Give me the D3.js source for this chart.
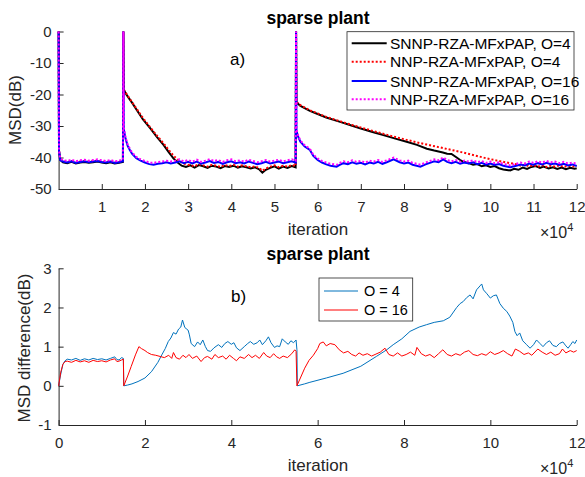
<!DOCTYPE html>
<html>
<head>
<meta charset="utf-8">
<script src="https://cdn.jsdelivr.net/npm/d3@7"></script>
<style>
  body { margin: 0; background: #fff; }
  svg { display: block; font-family: "Liberation Sans", Arial, sans-serif; }
  .axis path, .axis line { stroke: #262626; }
  .axis text { fill: #262626; font-size: 15px; font-family: "Liberation Sans", Arial, sans-serif; }
</style>
</head>
<body>
<div id="container"></div>
<script>
// x values are iterations in units of 1e4
const xTicksTop = [1, 2, 3, 4, 5, 6, 7, 8, 9, 10, 11, 12];
const yTicksTop = [0, -10, -20, -30, -40, -50];
const xTicksBottom = [0, 2, 4, 6, 8, 10, 12];
const yTicksBottom = [-1, 0, 1, 2, 3];

const topLegend = ["SNNP-RZA-MFxPAP, O=4", "NNP-RZA-MFxPAP, O=4", "SNNP-RZA-MFxPAP, O=16", "NNP-RZA-MFxPAP, O=16"];
const bottomLegend = ["O = 4", "O = 16"];

// a) MSD curves (dB)
const snnp4 = [[0,0],[0.01,-38],[0.04,-40.8],[0.1,-41.5],[0.2,-41.8],[0.3,-41.4],[0.4,-41.9],[0.5,-41.6],[0.6,-41.4],[0.7,-41.7],[0.8,-41.5],[0.9,-41.3],[1.0,-41.6],[1.1,-41.8],[1.2,-41.5],[1.3,-41.9],[1.4,-41.7],[1.49,-41.4],
  [1.5,0],[1.51,-18.6],[1.58,-20.2],[1.7,-22.6],[1.81,-24.9],[1.95,-27.8],[2.12,-30.7],[2.28,-33.5],[2.43,-36],[2.55,-38.3],[2.66,-40.3],[2.75,-41.5],[2.85,-42.6],[2.95,-43],[3.05,-42.5],[3.15,-43.2],[3.25,-42.4],[3.35,-42.8],[3.45,-43.3],[3.55,-42.6],[3.65,-42.9],[3.75,-43.4],[3.85,-42.7],[3.95,-43],[4.05,-42.6],[4.15,-43.2],[4.25,-42.8],[4.35,-43.1],[4.45,-43.5],[4.55,-43.1],[4.65,-43.8],[4.72,-44.8],[4.8,-43.9],[4.9,-43.3],[5.0,-42.8],[5.1,-43.5],[5.2,-42.9],[5.3,-43.3],[5.4,-42.7],[5.49,-43.1],
  [5.5,0],[5.51,-22.5],[5.6,-23.6],[5.82,-25.2],[6.0,-26.2],[6.2,-27.3],[6.52,-28.7],[6.8,-29.9],[7.0,-30.8],[7.29,-32],[7.5,-32.8],[7.8,-34],[8.06,-35],[8.3,-36],[8.53,-37.2],[8.7,-37.8],[8.9,-38.4],[9.0,-38.8],[9.1,-38.9],[9.22,-40],[9.3,-40.8],[9.37,-41.3],[9.5,-41.8],[9.6,-42.3],[9.7,-42.1],[9.8,-42.8],[9.9,-42.5],[10.0,-43],[10.1,-42.7],[10.2,-43.4],[10.3,-43.8],[10.46,-44.1],[10.55,-43.6],[10.65,-43.9],[10.75,-43.2],[10.85,-43.6],[10.95,-43],[11.05,-42.7],[11.15,-43.3],[11.23,-42.9],[11.35,-43.5],[11.45,-43.1],[11.55,-43.6],[11.65,-43.2],[11.75,-43.7],[11.85,-43.3],[11.95,-43.6],[12,-43.4]];

const nnp4 = [[0,0],[0.01,-38],[0.04,-40.5],[0.1,-41.2],[0.2,-41.5],[0.3,-41.1],[0.4,-41.6],[0.5,-41.3],[0.6,-41.1],[0.7,-41.4],[0.8,-41.2],[0.9,-41.0],[1.0,-41.3],[1.1,-41.5],[1.2,-41.2],[1.3,-41.6],[1.4,-41.4],[1.49,-41.1],
  [1.5,0],[1.51,-18.4],[1.58,-20],[1.7,-22.4],[1.81,-24.6],[1.95,-27.4],[2.12,-30.4],[2.28,-33.1],[2.43,-35.5],[2.55,-37.6],[2.66,-39.4],[2.75,-40.6],[2.85,-41.5],[2.95,-42.2],[3.05,-42.4],[3.15,-42.8],[3.25,-42.1],[3.35,-42.5],[3.45,-42.9],[3.55,-42.3],[3.65,-42.6],[3.75,-43],[3.85,-42.4],[3.95,-42.7],[4.05,-42.3],[4.15,-42.9],[4.25,-42.5],[4.35,-42.8],[4.45,-43.1],[4.55,-42.8],[4.65,-43.4],[4.72,-44.2],[4.8,-43.5],[4.9,-42.9],[5.0,-42.5],[5.1,-43.1],[5.2,-42.6],[5.3,-42.9],[5.4,-42.4],[5.49,-42.7],
  [5.5,0],[5.51,-22.3],[5.6,-23.4],[5.82,-25],[6.0,-26],[6.2,-27.1],[6.52,-28.5],[6.8,-29.7],[7.0,-30.5],[7.29,-31.6],[7.5,-32.4],[7.8,-33.5],[8.06,-34.4],[8.3,-35.2],[8.53,-35.9],[8.8,-36.7],[9.0,-37.3],[9.3,-38.2],[9.6,-39.2],[9.92,-40.3],[10.2,-41.1],[10.46,-41.8],[10.6,-42.1],[10.7,-42.6],[10.8,-42.3],[10.9,-42.8],[11.0,-42.4],[11.1,-42.9],[11.2,-42.5],[11.3,-43],[11.4,-42.6],[11.5,-42.9],[11.6,-42.5],[11.7,-43],[11.8,-42.6],[11.9,-42.9],[12,-42.7]];

const snnp16 = [[0,0],[0.01,-38],[0.04,-40.8],[0.1,-41.3],[0.2,-41.6],[0.3,-41.2],[0.4,-41.7],[0.5,-41.4],[0.6,-41.2],[0.7,-41.5],[0.8,-41.3],[0.9,-41.1],[1.0,-41.4],[1.1,-41.6],[1.2,-41.3],[1.3,-41.7],[1.4,-41.5],[1.49,-41.2],
  [1.5,0],[1.51,-31],[1.55,-34],[1.6,-36.3],[1.65,-37.6],[1.7,-38.8],[1.8,-40.2],[1.9,-41],[2.0,-41.6],[2.1,-42.1],[2.2,-42.3],[2.3,-42],[2.4,-41.8],[2.5,-41.5],[2.6,-41.9],[2.7,-41.6],[2.8,-41.2],[2.9,-41.8],[3.0,-41.4],[3.1,-41.9],[3.2,-41.3],[3.3,-42],[3.4,-41.6],[3.5,-41.1],[3.6,-41.7],[3.7,-41.4],[3.8,-42],[3.9,-41.5],[4.0,-41.2],[4.1,-41.8],[4.2,-41.5],[4.3,-41.9],[4.4,-41.3],[4.5,-41.7],[4.6,-42.1],[4.7,-41.8],[4.8,-41.4],[4.9,-41.9],[5.0,-41.6],[5.1,-41.3],[5.2,-41.8],[5.3,-41.5],[5.4,-41.2],[5.49,-41.6],
  [5.5,0],[5.51,-31.5],[5.55,-33.5],[5.6,-35],[5.7,-36.5],[5.82,-37.6],[5.9,-39.5],[6.0,-40.8],[6.1,-41.6],[6.2,-42.2],[6.3,-42.6],[6.44,-42.9],[6.5,-42.4],[6.6,-41.8],[6.7,-42.1],[6.8,-41.5],[6.9,-42],[7.0,-41.7],[7.1,-42.2],[7.2,-41.6],[7.3,-41.9],[7.4,-41.4],[7.5,-42],[7.6,-41.5],[7.76,-40.6],[7.9,-41.5],[8.0,-41.9],[8.1,-41.6],[8.2,-42.3],[8.38,-42.9],[8.5,-42.2],[8.6,-41.7],[8.7,-41.2],[8.8,-41.5],[8.91,-40.6],[9.0,-41.4],[9.1,-41.8],[9.2,-41.4],[9.3,-42],[9.4,-41.6],[9.5,-41.9],[9.6,-41.5],[9.7,-42.1],[9.8,-41.7],[9.9,-42.3],[10.0,-41.9],[10.1,-42.4],[10.2,-42.1],[10.3,-42.6],[10.46,-43.1],[10.6,-42.6],[10.7,-42.2],[10.8,-42.5],[10.9,-41.9],[11.0,-42.3],[11.1,-41.8],[11.2,-42.2],[11.3,-41.7],[11.4,-42.1],[11.5,-41.9],[11.6,-42.4],[11.7,-42],[11.8,-42.5],[11.9,-42.2],[12.0,-42.7]];

const nnp16 = [[0,0],[0.01,-38],[0.04,-40.4],[0.1,-40.8],[0.2,-41.1],[0.3,-40.7],[0.4,-41.2],[0.5,-40.9],[0.6,-40.7],[0.7,-41.0],[0.8,-40.8],[0.9,-40.6],[1.0,-40.9],[1.1,-41.1],[1.2,-40.8],[1.3,-41.2],[1.4,-41.0],[1.49,-40.7],
  [1.5,0],[1.51,-30.6],[1.55,-33.6],[1.6,-35.9],[1.65,-37.2],[1.7,-38.4],[1.8,-39.8],[1.9,-40.6],[2.0,-41.1],[2.1,-41.6],[2.2,-41.7],[2.3,-41.4],[2.4,-41.3],[2.5,-41.0],[2.6,-41.3],[2.7,-41.0],[2.8,-40.6],[2.9,-41.2],[3.0,-40.8],[3.1,-41.3],[3.2,-40.7],[3.3,-41.4],[3.4,-41.0],[3.5,-40.5],[3.6,-41.1],[3.7,-40.8],[3.8,-41.4],[3.9,-40.9],[4.0,-40.6],[4.1,-41.2],[4.2,-40.9],[4.3,-41.3],[4.4,-40.7],[4.5,-41.1],[4.6,-41.5],[4.7,-41.2],[4.8,-40.8],[4.9,-41.3],[5.0,-41.0],[5.1,-40.7],[5.2,-41.2],[5.3,-40.9],[5.4,-40.6],[5.49,-41.0],
  [5.5,0],[5.51,-31.1],[5.55,-33.1],[5.6,-34.6],[5.7,-36.1],[5.82,-37.2],[5.9,-39.1],[6.0,-40.3],[6.1,-41.1],[6.2,-41.6],[6.3,-42.0],[6.44,-42.3],[6.5,-41.8],[6.6,-41.2],[6.7,-41.5],[6.8,-40.9],[6.9,-41.4],[7.0,-41.1],[7.1,-41.6],[7.2,-41.0],[7.3,-41.3],[7.4,-40.8],[7.5,-41.4],[7.6,-40.9],[7.76,-40.0],[7.9,-40.9],[8.0,-41.3],[8.1,-41.0],[8.2,-41.7],[8.38,-42.3],[8.5,-41.6],[8.6,-41.1],[8.7,-40.6],[8.8,-40.9],[8.91,-40.0],[9.0,-40.8],[9.1,-41.2],[9.2,-40.8],[9.3,-41.4],[9.4,-41.0],[9.5,-41.3],[9.6,-40.9],[9.7,-41.5],[9.8,-41.1],[9.9,-41.7],[10.0,-41.3],[10.1,-41.8],[10.2,-41.5],[10.3,-42.0],[10.46,-42.5],[10.6,-42.0],[10.7,-41.6],[10.8,-41.9],[10.9,-41.3],[11.0,-41.7],[11.1,-41.2],[11.2,-41.6],[11.3,-41.1],[11.4,-41.5],[11.5,-41.3],[11.6,-41.8],[11.7,-41.4],[11.8,-41.9],[11.9,-41.6],[12.0,-42.0]];

// b) MSD difference (dB)
const diff4 = [[0,0],[0.05,0.3],[0.1,0.55],[0.15,0.64],[0.2,0.68],[0.3,0.66],[0.4,0.7],[0.5,0.65],[0.6,0.69],[0.7,0.66],[0.8,0.7],[0.9,0.67],[1.0,0.69],[1.1,0.66],[1.2,0.7],[1.3,0.74],[1.35,0.67],[1.4,0.66],[1.46,0.72],[1.5,0.7],
  [1.51,0],[1.6,0.02],[1.7,0.05],[1.84,0.11],[2.0,0.2],[2.15,0.36],[2.3,0.6],[2.39,0.79],[2.47,0.95],[2.54,1.13],[2.6,1.22],[2.66,1.36],[2.72,1.32],[2.78,1.45],[2.83,1.5],[2.87,1.68],[2.92,1.5],[2.96,1.45],[3.0,1.42],[3.03,1.3],[3.07,1.08],[3.15,1.0],[3.22,1.12],[3.28,1.05],[3.34,1.17],[3.4,1.0],[3.45,0.9],[3.52,0.88],[3.6,0.97],[3.7,1.05],[3.78,0.98],[3.85,1.08],[3.92,1.13],[4.0,1.06],[4.06,1.1],[4.12,0.97],[4.2,0.9],[4.3,1.0],[4.38,1.08],[4.44,1.13],[4.52,1.06],[4.6,1.1],[4.66,1.17],[4.72,1.05],[4.8,1.15],[4.86,1.25],[4.92,1.1],[5.0,0.98],[5.06,1.02],[5.12,1.0],[5.18,1.2],[5.25,1.12],[5.32,1.06],[5.38,1.15],[5.44,1.1],[5.5,1.17],[5.52,0.92],
  [5.53,0],[5.7,0.05],[5.82,0.09],[6.2,0.2],[6.59,0.32],[7.0,0.5],[7.36,0.75],[7.6,0.92],[7.75,1.05],[7.95,1.2],[8.14,1.39],[8.35,1.5],[8.52,1.56],[8.7,1.62],[8.91,1.66],[9.06,1.75],[9.22,2.0],[9.3,2.1],[9.37,2.15],[9.45,2.25],[9.53,2.32],[9.6,2.22],[9.68,2.45],[9.76,2.55],[9.8,2.6],[9.84,2.45],[9.92,2.35],[10.0,2.24],[10.07,2.3],[10.14,2.32],[10.22,2.1],[10.3,1.98],[10.38,1.9],[10.45,1.78],[10.52,1.62],[10.57,1.38],[10.62,1.28],[10.68,1.35],[10.75,1.15],[10.84,1.05],[10.92,0.96],[11.0,1.05],[11.07,1.17],[11.15,1.08],[11.22,1.0],[11.3,1.1],[11.37,1.15],[11.45,1.03],[11.53,1.0],[11.6,1.08],[11.68,1.12],[11.75,1.02],[11.8,0.96],[11.86,1.05],[11.91,1.13],[11.96,1.08],[12.0,1.17]];

const diff16 = [[0,0],[0.05,0.35],[0.1,0.55],[0.15,0.62],[0.2,0.63],[0.3,0.6],[0.4,0.65],[0.5,0.61],[0.6,0.64],[0.7,0.6],[0.8,0.65],[0.9,0.62],[1.0,0.64],[1.1,0.61],[1.2,0.66],[1.3,0.69],[1.35,0.62],[1.4,0.63],[1.46,0.66],[1.5,0.68],
  [1.51,0],[1.6,0.25],[1.68,0.49],[1.78,0.79],[1.86,1.0],[1.92,0.95],[2.0,0.9],[2.06,0.85],[2.15,0.8],[2.25,0.78],[2.35,0.75],[2.45,0.72],[2.55,0.78],[2.62,0.7],[2.66,0.85],[2.72,0.72],[2.8,0.68],[2.88,0.78],[2.95,0.72],[3.02,0.8],[3.1,0.7],[3.2,0.76],[3.3,0.62],[3.38,0.72],[3.45,0.75],[3.55,0.68],[3.62,0.8],[3.7,0.72],[3.8,0.76],[3.88,0.68],[3.96,0.78],[4.05,0.7],[4.12,0.64],[4.2,0.74],[4.3,0.7],[4.4,0.8],[4.48,0.72],[4.56,0.78],[4.65,0.7],[4.75,0.85],[4.82,0.76],[4.9,0.72],[4.98,0.82],[5.05,0.74],[5.12,0.7],[5.2,0.76],[5.3,0.72],[5.4,0.82],[5.47,0.92],[5.5,0.88],
  [5.52,0],[5.6,0.2],[5.7,0.45],[5.8,0.65],[5.9,0.78],[6.0,0.95],[6.05,1.08],[6.13,1.12],[6.2,1.02],[6.29,1.08],[6.4,1.05],[6.5,0.92],[6.6,0.84],[6.7,0.88],[6.79,0.8],[6.88,0.76],[6.96,0.84],[7.05,0.78],[7.15,0.82],[7.25,0.76],[7.33,0.8],[7.45,0.86],[7.56,0.96],[7.65,0.8],[7.75,0.76],[7.85,0.84],[7.95,0.76],[8.05,0.8],[8.15,0.86],[8.25,0.78],[8.3,0.98],[8.4,0.82],[8.5,0.76],[8.6,0.8],[8.7,0.72],[8.8,0.82],[8.9,0.92],[9.0,0.8],[9.1,0.76],[9.2,0.82],[9.3,0.78],[9.4,0.86],[9.5,0.9],[9.6,0.8],[9.7,0.77],[9.8,0.82],[9.9,0.78],[10.0,0.87],[10.1,0.8],[10.2,0.84],[10.3,0.9],[10.4,0.82],[10.5,0.76],[10.58,0.94],[10.68,0.88],[10.78,0.8],[10.88,0.84],[10.96,0.78],[11.1,0.94],[11.2,0.86],[11.3,0.8],[11.4,0.86],[11.5,0.78],[11.6,0.82],[11.67,0.94],[11.75,0.84],[11.85,0.9],[11.93,0.86],[12.0,0.9]];

const w = 585, h = 477;
const left = 58.6, right = 576.7;

const svg = d3.select('#container').append('svg')
    .attr('width', w)
    .attr('height', h);

const xScale = d3.scaleLinear().domain([0, 12]).range([left, right]);
const yTop = d3.scaleLinear().domain([-50, 0]).range([189, 31.5]);
const yBot = d3.scaleLinear().domain([-1, 3]).range([425, 268.3]);

// ---------- panel a ----------
const gA = svg.append('g');

gA.append('g')
    .attr('class', 'axis')
    .attr('transform', 'translate(0,189)')
    .call(d3.axisBottom(xScale).tickValues(xTicksTop).tickSize(-5).tickSizeOuter(0).tickPadding(12).tickFormat(d => d));

gA.append('g')
    .attr('class', 'axis')
    .attr('transform', 'translate(' + left + ',0)')
    .call(d3.axisLeft(yTop).tickValues(yTicksTop).tickSize(-5).tickSizeOuter(0).tickPadding(7).tickFormat(d => d));

const lineA = d3.line().x(d => xScale(d[0])).y(d => yTop(d[1]));

const seriesA = [
    { data: snnp4, color: '#000000', dash: null },
    { data: nnp4, color: '#ff0000', dash: '2,2' },
    { data: snnp16, color: '#0000ff', dash: null },
    { data: nnp16, color: '#ff00ff', dash: '2,2' }
];

gA.selectAll('.lineA')
    .data(seriesA)
    .enter()
    .append('path')
    .attr('class', 'lineA')
    .attr('d', d => lineA(d.data))
    .attr('fill', 'none')
    .attr('stroke', d => d.color)
    .attr('stroke-width', 2)
    .attr('stroke-dasharray', d => d.dash);

// legend a
const legA = gA.append('g');
legA.append('rect')
    .attr('x', 347).attr('y', 31.7).attr('width', 227).attr('height', 78.3)
    .attr('fill', '#fff').attr('stroke', '#262626').attr('stroke-width', 0.8);
const legRowsA = [43.3, 61.7, 81, 99.3];
seriesA.forEach((s, i) => {
    legA.append('line')
        .attr('x1', 351.7).attr('x2', 386.7)
        .attr('y1', legRowsA[i]).attr('y2', legRowsA[i])
        .attr('stroke', s.color).attr('stroke-width', 2)
        .attr('stroke-dasharray', s.dash);
    legA.append('text')
        .attr('x', 390).attr('y', legRowsA[i] + 5.5)
        .attr('font-size', '15.5px').attr('fill', '#000')
        .text(topLegend[i]);
});

gA.append('text').attr('x', 318).attr('y', 24).attr('text-anchor', 'middle')
    .attr('font-size', '17.5px').attr('font-weight', 'bold').text('sparse plant');
gA.append('text').attr('x', 230).attr('y', 65).attr('font-size', '17px').text('a)');
gA.append('text').attr('x', 318).attr('y', 235).attr('text-anchor', 'middle')
    .attr('font-size', '17px').attr('fill', '#262626').text('iteration');
gA.append('text').attr('transform', 'translate(21,110) rotate(-90)').attr('text-anchor', 'middle')
    .attr('font-size', '17px').attr('fill', '#262626').text('MSD(dB)');
const expA = gA.append('text').attr('x', 540).attr('y', 238).attr('font-size', '16px').attr('fill', '#262626');
expA.append('tspan').text('\u00d710');
expA.append('tspan').attr('dy', -7).attr('font-size', '11px').text('4');

// ---------- panel b ----------
const gB = svg.append('g');

gB.append('g')
    .attr('class', 'axis')
    .attr('transform', 'translate(0,425)')
    .call(d3.axisBottom(xScale).tickValues(xTicksBottom).tickSize(-5).tickSizeOuter(0).tickPadding(12).tickFormat(d => d));

gB.append('g')
    .attr('class', 'axis')
    .attr('transform', 'translate(' + left + ',0)')
    .call(d3.axisLeft(yBot).tickValues(yTicksBottom).tickSize(-5).tickSizeOuter(0).tickPadding(7).tickFormat(d => d));

const lineB = d3.line().x(d => xScale(d[0])).y(d => yBot(d[1]));

const seriesB = [
    { data: diff4, color: '#0072bd' },
    { data: diff16, color: '#ff0000' }
];

gB.selectAll('.lineB')
    .data(seriesB)
    .enter()
    .append('path')
    .attr('class', 'lineB')
    .attr('d', d => lineB(d.data))
    .attr('fill', 'none')
    .attr('stroke', d => d.color)
    .attr('stroke-width', 1);

const legB = gB.append('g');
legB.append('rect')
    .attr('x', 319).attr('y', 278).attr('width', 93.7).attr('height', 43)
    .attr('fill', '#fff').attr('stroke', '#262626').attr('stroke-width', 0.8);
const legRowsB = [291, 310];
seriesB.forEach((s, i) => {
    legB.append('line')
        .attr('x1', 324).attr('x2', 358)
        .attr('y1', legRowsB[i]).attr('y2', legRowsB[i])
        .attr('stroke', s.color).attr('stroke-width', 1);
    legB.append('text')
        .attr('x', 364).attr('y', legRowsB[i] + 5)
        .attr('font-size', '14.5px').attr('fill', '#000')
        .text(bottomLegend[i]);
});

gB.append('text').attr('x', 318).attr('y', 260).attr('text-anchor', 'middle')
    .attr('font-size', '17.5px').attr('font-weight', 'bold').text('sparse plant');
gB.append('text').attr('x', 231).attr('y', 302).attr('font-size', '17px').text('b)');
gB.append('text').attr('x', 318).attr('y', 471).attr('text-anchor', 'middle')
    .attr('font-size', '17px').attr('fill', '#262626').text('iteration');
gB.append('text').attr('transform', 'translate(30,348) rotate(-90)').attr('text-anchor', 'middle')
    .attr('font-size', '17px').attr('fill', '#262626').text('MSD difference(dB)');
const expB = gB.append('text').attr('x', 540).attr('y', 474).attr('font-size', '16px').attr('fill', '#262626');
expB.append('tspan').text('\u00d710');
expB.append('tspan').attr('dy', -7).attr('font-size', '11px').text('4');
</script>
</body>
</html>
